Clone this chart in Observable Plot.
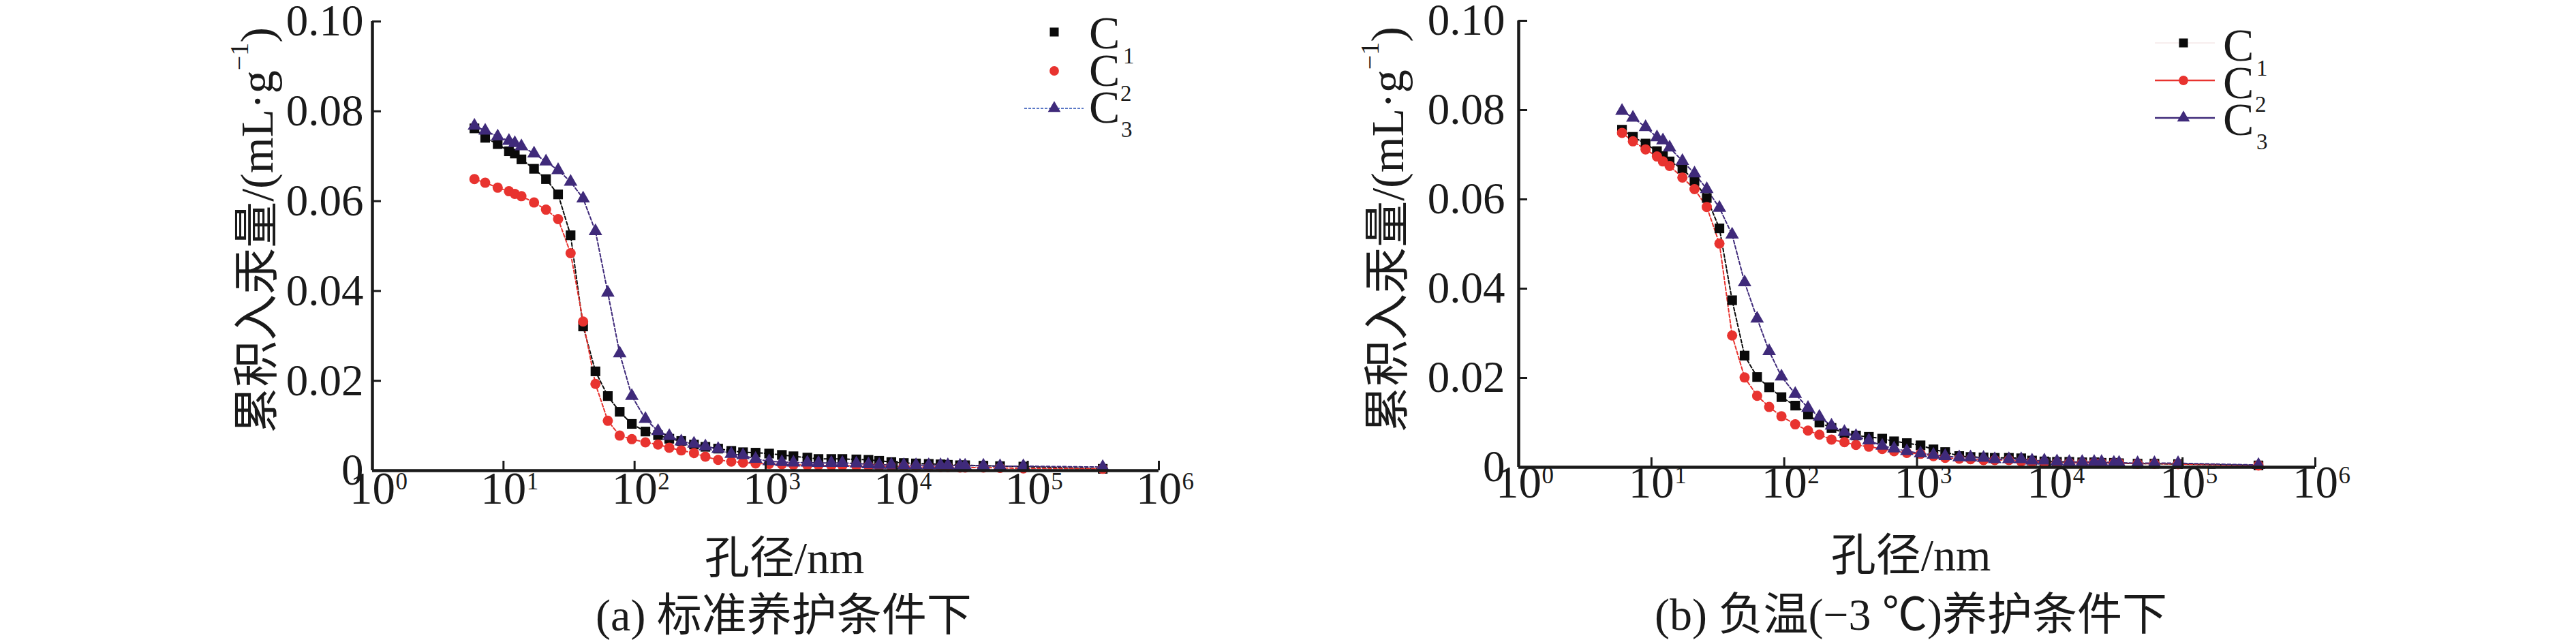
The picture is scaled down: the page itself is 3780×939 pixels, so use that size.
<!DOCTYPE html>
<html><head><meta charset="utf-8">
<script src="https://cdn.jsdelivr.net/npm/d3@7"></script>
<script src="https://cdn.jsdelivr.net/npm/@observablehq/plot@0.6"></script>
<style>
body{margin:0;background:#fff;}
#wrap{position:relative;width:3780px;height:939px;overflow:hidden;background:#fff;}
#wrap > svg{position:absolute;top:0;}
</style></head><body><div id="wrap"></div>
<script>
// ---- data (pore diameter in nm, cumulative intrusion in mL/g) ----
const poreSize = [6.0, 7.25, 9.03, 11.0, 12.2, 13.7, 17.1, 21.1, 26.1, 32.5, 40.5, 50.3, 62.5, 77.0, 95.3, 121, 151, 184, 227, 284, 347, 434, 547, 672, 838, 1063, 1330, 1630, 2080, 2530, 3170, 3850, 4920, 6090, 7350, 9100, 11330, 14030, 17550, 21600, 24550, 30400, 33250, 45850, 61400, 92500, 373000];

const stdC1 = [0.0762, 0.0741, 0.0727, 0.0711, 0.0706, 0.0693, 0.0672, 0.0649, 0.0615, 0.0524,
  0.0321, 0.0221, 0.0166, 0.0131, 0.0104, 0.0087, 0.0079, 0.0071, 0.0066, 0.0058,
  0.0053, 0.0049, 0.0044, 0.0041, 0.0040, 0.0038, 0.0035, 0.0032, 0.0029, 0.0026,
  0.0026, 0.0026, 0.0025, 0.0024, 0.0022, 0.0019, 0.0017, 0.0016, 0.0015, 0.0014,
  0.0013, 0.0012, 0.0012, 0.0011, 0.0010, 0.0009, 0.0004];
const stdC2 = [0.0649, 0.0641, 0.0630, 0.0622, 0.0616, 0.0611, 0.0597, 0.0581, 0.0560, 0.0484,
  0.0332, 0.0193, 0.0111, 0.0078, 0.0070, 0.0063, 0.0058, 0.0051, 0.0045, 0.0039,
  0.0031, 0.0024, 0.0020, 0.0018, 0.0016, 0.0015, 0.0014, 0.0013, 0.0012, 0.0012,
  0.0011, 0.0011, 0.0010, 0.0010, 0.0009, 0.0009, 0.0009, 0.0008, 0.0008, 0.0008,
  0.0008, 0.0007, 0.0007, 0.0007, 0.0006, 0.0005, 0.0004];
const stdC3 = [0.0768, 0.0757, 0.0744, 0.0734, 0.0729, 0.0722, 0.0706, 0.0688, 0.0669, 0.0643,
  0.0606, 0.0533, 0.0396, 0.0261, 0.0166, 0.0115, 0.0088, 0.0077, 0.0065, 0.0060,
  0.0054, 0.0048, 0.0037, 0.0034, 0.0026, 0.0021, 0.0019, 0.0018, 0.0018, 0.0017,
  0.0017, 0.0017, 0.0016, 0.0014, 0.0013, 0.0013, 0.0012, 0.0012, 0.0012, 0.0012,
  0.0012, 0.0011, 0.0011, 0.0011, 0.0010, 0.0010, 0.0008];

const negC1 = [0.0756, 0.0740, 0.0725, 0.0708, 0.0697, 0.0685, 0.0669, 0.0641, 0.0603, 0.0535,
  0.0374, 0.0250, 0.0202, 0.0179, 0.0157, 0.0138, 0.0118, 0.0100, 0.0088, 0.0076,
  0.0071, 0.0068, 0.0064, 0.0058, 0.0054, 0.0049, 0.0040, 0.0034, 0.0025, 0.0023,
  0.0022, 0.0021, 0.0021, 0.0020, 0.0015, 0.0013, 0.0012, 0.0012, 0.0011, 0.0011,
  0.0010, 0.0010, 0.0009, 0.0008, 0.0008, 0.0007, 0.0004];
const negC2 = [0.0749, 0.0730, 0.0712, 0.0696, 0.0685, 0.0675, 0.0649, 0.0623, 0.0583, 0.0501,
  0.0295, 0.0201, 0.0160, 0.0135, 0.0114, 0.0096, 0.0082, 0.0073, 0.0062, 0.0056,
  0.0050, 0.0046, 0.0041, 0.0036, 0.0032, 0.0030, 0.0025, 0.0021, 0.0019, 0.0018,
  0.0016, 0.0016, 0.0016, 0.0013, 0.0012, 0.0011, 0.0010, 0.0010, 0.0010, 0.0010,
  0.0010, 0.0009, 0.0009, 0.0008, 0.0008, 0.0007, 0.0004];
const negC3 = [0.0798, 0.0783, 0.0762, 0.0739, 0.0732, 0.0716, 0.0686, 0.0658, 0.0623, 0.0581,
  0.0521, 0.0414, 0.0333, 0.0260, 0.0203, 0.0164, 0.0133, 0.0113, 0.0093, 0.0079,
  0.0070, 0.0060, 0.0048, 0.0042, 0.0036, 0.0031, 0.0028, 0.0025, 0.0022, 0.0022,
  0.0021, 0.0018, 0.0018, 0.0018, 0.0015, 0.0015, 0.0013, 0.0012, 0.0012, 0.0012,
  0.0012, 0.0010, 0.0010, 0.0009, 0.0009, 0.0009, 0.0005];

const xTickExp = [0, 1, 2, 3, 4, 5, 6];
const yTicks = [0, 0.02, 0.04, 0.06, 0.08, 0.10];
const yTickLabels = ["0", "0.02", "0.04", "0.06", "0.08", "0.10"];
const seriesNames = ["C", "C", "C"];
const seriesSubs = ["1", "2", "3"];
const yLabelMain = "累积入汞量/(mL·g";
const yLabelSup = "−1";
const xLabel = "孔径/nm";
const captionA = "(a) 标准养护条件下";
const captionB = "(b) 负温(−3 ℃)养护条件下";

const COL = {c1: "#0a0a0a", c2: "#e8332f", c3: "#3f2a7a", axis: "#1a1a1a"};
const SERIF = "'Liberation Serif','Noto Sans CJK SC',serif";

function panel(cfg) {
  const s1 = poreSize.map((d, i) => ({d, v: cfg.c1[i]}));
  const s2 = poreSize.map((d, i) => ({d, v: cfg.c2[i]}));
  const s3 = poreSize.map((d, i) => ({d, v: cfg.c3[i]}));
  return Plot.plot({
    width: 1890, height: 939,
    marginLeft: cfg.ml, marginRight: cfg.mr, marginTop: cfg.mt, marginBottom: cfg.mb,
    x: {type: "log", domain: [1, 1e6], axis: null},
    y: {domain: [0, 0.1], axis: null},
    style: {fontFamily: SERIF, color: COL.axis, background: "transparent", overflow: "visible"},
    marks: [
      Plot.line(s1, {x: "d", y: "v", stroke: COL.c1, strokeWidth: 2, strokeDasharray: "5,3"}),
      Plot.line(s2, {x: "d", y: "v", stroke: COL.c2, strokeWidth: 2, strokeDasharray: "5,3"}),
      Plot.line(s3, {x: "d", y: "v", stroke: COL.c3, strokeWidth: 2, strokeDasharray: "5,3"}),
      Plot.dot(s1, {x: "d", y: "v", symbol: "square", r: 8, fill: COL.c1}),
      Plot.dot(s2, {x: "d", y: "v", symbol: "circle", r: 7.5, fill: COL.c2}),
      Plot.dot(s3, {x: "d", y: "v", symbol: "triangle", r: 7.4, fill: COL.c3}),
      Plot.axisY(yTicks, {tickSize: -13, strokeWidth: 3, tickFormat: () => "", label: null}),
      Plot.axisY(yTicks, {tickSize: 0, tickPadding: cfg.ytp, tickFormat: (d) => yTickLabels[yTicks.indexOf(d)], fontSize: 65, label: null}),
      Plot.axisX(xTickExp.map(e => 10 ** e), {tickSize: -14, strokeWidth: 3, tickFormat: () => "", label: null}),
      Plot.text(xTickExp, {x: e => 10 ** e, frameAnchor: "bottom", dy: cfg.xdy, text: () => "10", fontSize: 67}),
      Plot.text(xTickExp, {x: e => 10 ** e, frameAnchor: "bottom", dy: cfg.xdy - 21, dx: 34, textAnchor: "start", text: e => String(e), fontSize: 35}),
      Plot.ruleX([1], {stroke: COL.axis, strokeWidth: 4.5}),
      Plot.ruleY([0], {stroke: COL.axis, strokeWidth: 4.5})
    ]
  });
}

const wrap = document.getElementById("wrap");
const left = panel({c1: stdC1, c2: stdC2, c3: stdC3, ml: 546, mr: 190, mt: 31, mb: 249, ytp: 13, xdy: 48});
left.style.left = "0px";
wrap.appendChild(left);
const right = panel({c1: negC1, c2: negC2, c3: negC3, ml: 338, mr: 383, mt: 30, mb: 254, ytp: 20, xdy: 44});
right.style.left = "1890px";
wrap.appendChild(right);

// ---- overlay: axis titles, captions, legends ----
const ov = d3.select(wrap).append("svg")
  .attr("width", 3780).attr("height", 939)
  .style("left", "0px").style("pointer-events", "none")
  .style("font-family", SERIF).style("fill", COL.axis);

function yTitle(cx, cy) {
  const t = ov.append("text").attr("transform", `translate(${cx},${cy}) rotate(-90)`)
    .attr("text-anchor", "middle").attr("dominant-baseline", "central").attr("font-size", 68);
  t.append("tspan").text(yLabelMain);
  t.append("tspan").attr("dy", -26).attr("font-size", 38).text(yLabelSup);
  t.append("tspan").attr("dy", 26).text(")");
}
yTitle(377, 338);
yTitle(2036, 337);

function centerText(str, x, y, size) {
  ov.append("text").attr("x", x).attr("y", y).attr("text-anchor", "middle")
    .attr("dominant-baseline", "central").attr("font-size", size).text(str);
}
centerText(xLabel, 1151, 818, 66);
centerText(xLabel, 2804, 814, 66);
centerText(captionA, 1150, 902, 66);
centerText(captionB, 2804, 901, 66);

const sq = d3.symbol(d3.symbolSquare, 170)();
const ci = d3.symbol(d3.symbolCircle, 150)();
const tr = d3.symbol(d3.symbolTriangle, 150)();

function legend(cfg) {
  const g = ov.append("g");
  const shapes = [sq, ci, tr];
  const fills = [COL.c1, COL.c2, COL.c3];
  cfg.rows.forEach((y, i) => {
    if (cfg.lines[i]) {
      g.append("line").attr("x1", cfg.lx1).attr("x2", cfg.lx2).attr("y1", y).attr("y2", y)
        .attr("stroke", cfg.lines[i].c).attr("stroke-width", cfg.lines[i].w)
        .attr("stroke-dasharray", cfg.lines[i].dash || null);
    }
    g.append("path").attr("d", shapes[i]).attr("transform", `translate(${cfg.mx},${y})`).attr("fill", fills[i]);
    g.append("text").attr("x", cfg.tx).attr("y", cfg.trows[i]).attr("dominant-baseline", "central")
      .attr("font-size", 68).text(seriesNames[i]);
    g.append("text").attr("x", cfg.sx[i]).attr("y", cfg.sy[i]).attr("font-size", 33).text(seriesSubs[i]);
  });
}
legend({mx: 1547, rows: [47, 104, 159], lx1: 1503, lx2: 1590,
  lines: [null, null, {c: "#5b78c6", w: 2, dash: "4,2"}],
  tx: 1598, trows: [48, 103, 157], sx: [1648, 1644, 1645], sy: [93, 148, 201]});
legend({mx: 3204, rows: [63, 118, 173], lx1: 3162, lx2: 3250,
  lines: [{c: "#f7eded", w: 2}, {c: COL.c2, w: 2.5}, {c: COL.c3, w: 2.5}],
  tx: 3262, trows: [66, 121, 175], sx: [3311, 3309, 3311], sy: [111, 164, 219]});
</script></body></html>
